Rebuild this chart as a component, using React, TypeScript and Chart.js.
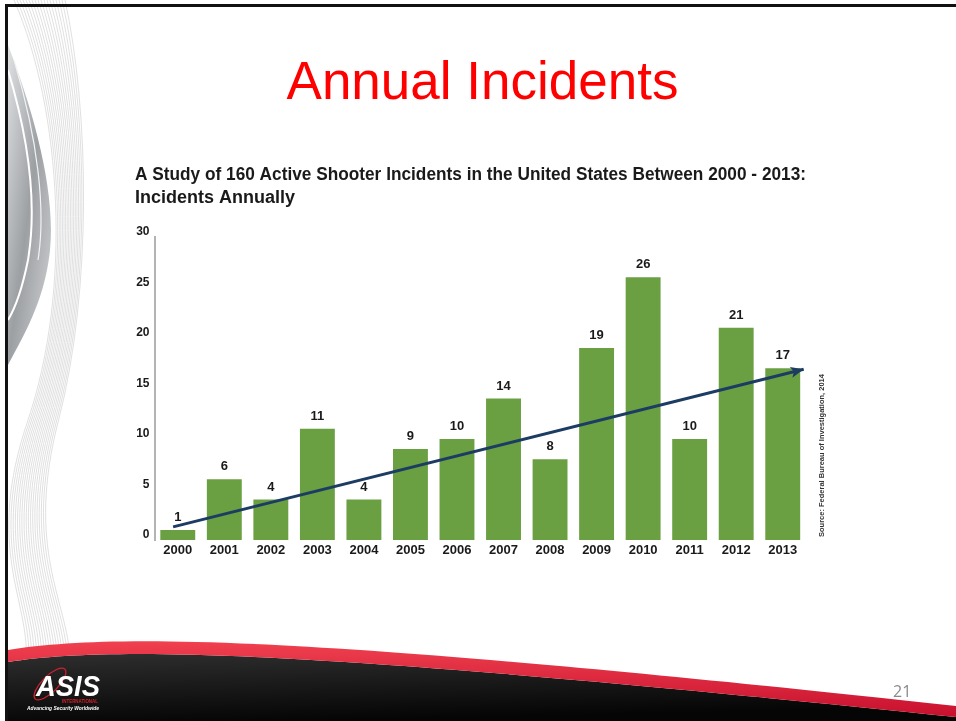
import React, { useEffect, useRef } from "react";
import { Chart, registerables } from "chart.js";

Chart.register(...registerables);

// ---- data ----
const years = ["2000", "2001", "2002", "2003", "2004", "2005", "2006", "2007", "2008", "2009", "2010", "2011", "2012", "2013"];
const incidents = [1, 6, 4, 11, 4, 9, 10, 14, 8, 19, 26, 10, 21, 17];
const trendYears = [1999.9, 2013.45];
const trendValues = [1.3, 16.9];
const yAxisMin = 0;
const yAxisMax = 30;
const yAxisStep = 5;
const chartTitleLines = [
  "A Study of 160 Active Shooter Incidents in the United States Between 2000 - 2013:",
  "Incidents Annually",
];
const sourceNote = "Source: Federal Bureau of Investigation, 2014";
const slideTitle = "Annual Incidents";
const pageNumber = "21";

const BAR_GREEN = "#6a9f42";
const NAVY = "#1d3c63";
const NARROW = "'Liberation Sans Narrow', 'Liberation Sans', Arial, sans-serif";
const SANS = "'Liberation Sans', Arial, sans-serif";

const valueLabelPlugin = {
  id: "valueLabels",
  afterDatasetsDraw(chart: any) {
    const meta = chart.getDatasetMeta(1);
    const ctx = chart.ctx;
    ctx.save();
    ctx.font = `bold 13px ${SANS}`;
    ctx.fillStyle = "#1a1a1a";
    ctx.textAlign = "center";
    ctx.textBaseline = "alphabetic";
    meta.data.forEach((el: any, i: number) => {
      ctx.fillText(String(chart.data.datasets[1].data[i]), el.x, el.y - 9);
    });
    ctx.restore();
  },
};

const arrowPlugin = {
  id: "arrowHead",
  afterDatasetsDraw(chart: any) {
    const meta = chart.getDatasetMeta(0);
    const pts = meta.data;
    if (pts.length < 2) return;
    const a = pts[pts.length - 2];
    const b = pts[pts.length - 1];
    const ang = Math.atan2(b.y - a.y, b.x - a.x);
    const ctx = chart.ctx;
    const len = 13;
    const half = 5.5;
    ctx.save();
    ctx.translate(b.x, b.y);
    ctx.rotate(ang);
    ctx.beginPath();
    ctx.moveTo(0, 0);
    ctx.lineTo(-len, -half);
    ctx.lineTo(-len + 3, 0);
    ctx.lineTo(-len, half);
    ctx.closePath();
    ctx.fillStyle = NAVY;
    ctx.fill();
    ctx.restore();
  },
};

const sourcePlugin = {
  id: "sourceNote",
  afterDraw(chart: any) {
    const { ctx, chartArea } = chart;
    ctx.save();
    ctx.translate(chartArea.right + 16, chartArea.bottom - 3);
    ctx.rotate(-Math.PI / 2);
    ctx.font = `bold 7.5px ${NARROW}`;
    ctx.fillStyle = "#333";
    ctx.textAlign = "left";
    ctx.textBaseline = "middle";
    ctx.fillText(sourceNote, 0, 0);
    ctx.restore();
  },
};

function IncidentsChart() {
  const ref = useRef<HTMLCanvasElement | null>(null);
  useEffect(() => {
    if (!ref.current) return;
    const chart = new Chart(ref.current, {
      type: "bar",
      data: {
        labels: years,
        datasets: [
          {
            type: "line",
            label: "Trend",
            xAxisID: "xt",
            data: trendYears.map((x, i) => ({ x, y: trendValues[i] })),
            borderColor: NAVY,
            borderWidth: 3,
            pointRadius: 0,
            fill: false,
            tension: 0,
          } as any,
          {
            type: "bar",
            label: "Incidents",
            data: incidents,
            backgroundColor: BAR_GREEN,
            barPercentage: 0.75,
            categoryPercentage: 1,
            grouped: false,
          } as any,
        ],
      },
      options: {
        responsive: false,
        animation: false,
        layout: { padding: { left: 0, right: 39, top: 0, bottom: 10 } },
        plugins: {
          legend: { display: false },
          tooltip: { enabled: false },
          title: {
            display: true,
            text: chartTitleLines,
            align: "start",
            color: "#1a1a1a",
            font: { family: NARROW, size: 18, weight: "bold", lineHeight: 1.3 },
            padding: { top: 13, bottom: 27 },
          },
        },
        scales: {
          x: {
            grid: { display: false, drawTicks: false },
            border: { display: false },
            ticks: {
              color: "#1a1a1a",
              font: { family: SANS, size: 13, weight: "bold" },
              padding: 3,
              maxRotation: 0,
              autoSkip: false,
            },
            afterFit(scale: any) {
              scale.height = 20;
            },
          },
          xt: {
            type: "linear",
            display: false,
            offset: false,
            min: 1999.5,
            max: 2013.5,
          },
          y: {
            min: yAxisMin,
            max: yAxisMax,
            grid: { display: false, drawTicks: false },
            border: { display: true, color: "#b3b3b3", width: 2 },
            ticks: {
              stepSize: yAxisStep,
              color: "#1a1a1a",
              font: { family: SANS, size: 12, weight: "bold" },
              padding: 5,
              labelOffset: -5,
            },
            afterFit(scale: any) {
              scale.width = 19.5;
            },
          },
        },
      } as any,
      plugins: [valueLabelPlugin, arrowPlugin, sourcePlugin],
    });
    return () => chart.destroy();
  }, []);
  return (
    <canvas
      ref={ref}
      width={710}
      height={420}
      style={{ position: "absolute", left: 135, top: 150, width: 710, height: 420 }}
    />
  );
}

function LeftSwirl() {
  const lines = [];
  for (let i = 0; i < 18; i++) {
    const d = `M ${14 + i * 3} 0 C ${62 + i * 1.6} 110, ${72 + i * 1.2} 290, ${28 + i * 1.8} 420 S ${30 + i * 2.2} 600, ${26 + i * 2.6} 660`;
    lines.push(<path key={i} d={d} stroke="#d2d2d2" strokeWidth={0.7} fill="none" />);
  }
  return (
    <svg width={120} height={660} style={{ position: "absolute", left: 0, top: 0 }}>
      <defs>
        <linearGradient id="sg" x1="0" y1="0" x2="1" y2="1">
          <stop offset="0" stopColor="#dfe1e3" />
          <stop offset="0.5" stopColor="#9da0a3" />
          <stop offset="1" stopColor="#d3d5d7" />
        </linearGradient>
      </defs>
      {lines}
      <path d="M 8 45 C 33 110, 56 190, 50 250 C 45 300, 24 335, 8 365 Z" fill="url(#sg)" />
      <path d="M 8 70 C 26 130, 38 200, 28 260 C 22 290, 14 310, 8 320" stroke="#fff" strokeWidth={2} fill="none" />
      <path d="M 14 60 C 38 140, 46 210, 38 260" stroke="#f2f2f2" strokeWidth={1.2} fill="none" />
    </svg>
  );
}

function BottomBand() {
  return (
    <svg width={956} height={721} style={{ position: "absolute", left: 0, top: 0, pointerEvents: "none" }}>
      <defs>
        <linearGradient id="blk" x1="0" y1="0" x2="0.3" y2="1">
          <stop offset="0" stopColor="#2e2e2e" />
          <stop offset="1" stopColor="#050505" />
        </linearGradient>
        <linearGradient id="red" x1="0" y1="0" x2="0" y2="1">
          <stop offset="0" stopColor="#f0414f" />
          <stop offset="1" stopColor="#c8102e" />
        </linearGradient>
      </defs>
      <path d="M 8 662 C 120 645, 330 652, 956 717 L 956 721 L 8 721 Z" fill="url(#blk)" />
      <path d="M 8 650 C 120 632, 330 638, 956 706 L 956 717 C 330 652, 120 645, 8 662 Z" fill="url(#red)" />
      <g>
        <ellipse cx={50} cy={684} rx={21} ry={8} fill="none" stroke="#d0202e" strokeWidth={1.3} transform="rotate(-45 50 684)" />
        <text x={36} y={696} fill="#ffffff" fontFamily={SANS} fontWeight="bold" fontStyle="italic" fontSize={30} textLength={64} lengthAdjust="spacingAndGlyphs">ASIS</text>
        <text x={62} y={702.5} fill="#d0202e" fontFamily={SANS} fontWeight="bold" fontSize={5.5} textLength={36} lengthAdjust="spacingAndGlyphs">INTERNATIONAL</text>
        <text x={27} y={710} fill="#ffffff" fontFamily={SANS} fontStyle="italic" fontWeight="bold" fontSize={5} textLength={72} lengthAdjust="spacingAndGlyphs">Advancing Security Worldwide</text>
      </g>
      <text x={893} y={697} fill="#8a8a8a" fontFamily="'Open Sans', sans-serif" fontSize={16}>{pageNumber}</text>
    </svg>
  );
}

export default function App() {
  return (
    <div
      style={{
        position: "absolute",
        left: 0,
        top: 0,
        width: 956,
        height: 721,
        overflow: "hidden",
        background: "#ffffff",
      }}
    >
      <LeftSwirl />
      <div style={{ position: "absolute", left: 5, top: 4, width: 951, height: 3, background: "#111" }} />
      <div style={{ position: "absolute", left: 5, top: 4, width: 3, height: 717, background: "#111" }} />
      <div
        style={{
          position: "absolute",
          left: 0,
          width: 965,
          top: 54,
          textAlign: "center",
          color: "#ff0000",
          fontFamily: SANS,
          fontSize: 53,
          lineHeight: "53px",
          whiteSpace: "nowrap",
        }}
      >
        {slideTitle}
      </div>
      <IncidentsChart />
      <BottomBand />
    </div>
  );
}
